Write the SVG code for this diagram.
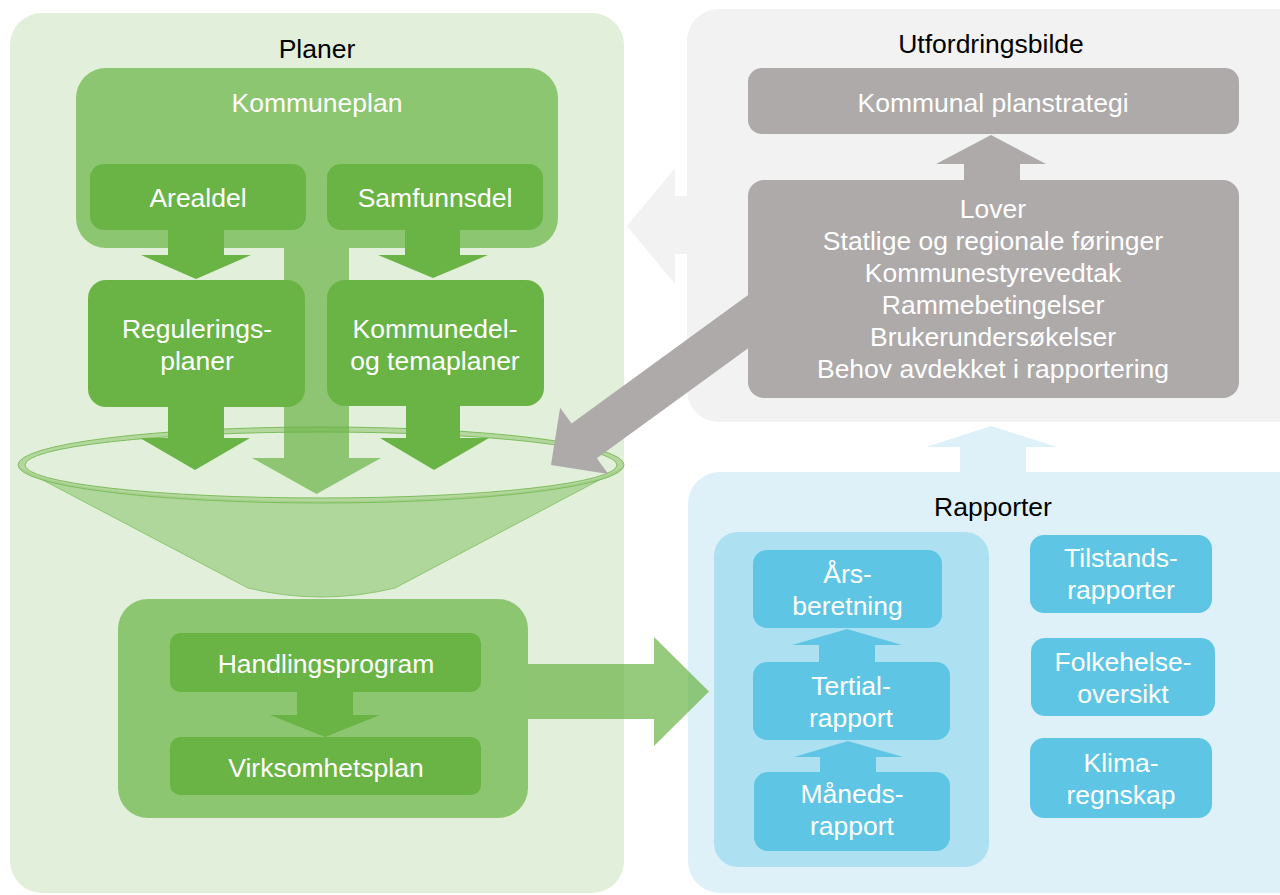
<svg xmlns="http://www.w3.org/2000/svg" width="1280" height="895" viewBox="0 0 1280 895">
<style>
text{font-family:"Liberation Sans",Arial,sans-serif;font-size:26.5px;text-anchor:middle}
.title{fill:#000}
.lbl{fill:#fff}
.pg{fill:#E2EFDA}
.mg{fill:#8DC671}
.dg{fill:#6AB446}
.pgray{fill:#F2F2F2}
.gray{fill:#AEAAAA}
.pblue{fill:#DEF1F9}
.mblue{fill:#ADE1F1}
.blue{fill:#5EC6E4}
</style>
<rect width="1280" height="895" fill="#fff"/>
<g id="containers">
  <g id="planer"><rect class="pg" x="10" y="13" width="614" height="880" rx="32"/><text class="title" x="317" y="58">Planer</text></g>
  <g id="utfordringsbilde"><rect class="pgray" x="687" y="9" width="630" height="413" rx="32"/><text class="title" x="991" y="53">Utfordringsbilde</text></g>
  <g id="rapporter"><rect class="pblue" x="688" y="472" width="630" height="421" rx="32"/><text class="title" x="993" y="516">Rapporter</text></g>
  <g id="kommuneplan"><rect class="mg" x="76" y="68" width="482" height="180" rx="30"/><text class="lbl" x="317" y="112">Kommuneplan</text></g>
  <g id="handling"><rect class="mg" x="118" y="599" width="410" height="219" rx="30"/></g>
  <g id="periodisk"><rect class="mblue" x="714" y="532" width="275" height="335" rx="24"/></g>
</g>
<g id="funnel">
  <path d="M20,468 L248,588 Q321,606 395,588 L622,468 A303 38 0 0 1 20,468 Z" fill="#AFD69B" stroke="#8DC671" stroke-width="1"/>
  <path d="M18,465 A303 38 0 1 0 624,465 A303 38 0 1 0 18,465 Z M25,465 A296 33 0 1 1 617,465 A296 33 0 1 1 25,465 Z" fill="#A9D18E" fill-opacity="0.8" fill-rule="evenodd" stroke="#7DBE5C" stroke-width="1"/>
</g>
<g id="connectors">
  <polygon class="pgray" points="627,226 675,168 675,196 700,196 700,254 675,254 675,284"/>
  <polygon class="pblue" points="991,426 1057,447 1026,447 1026,480 960,480 960,447 926,447"/>
  <polygon fill="#6AB446" fill-opacity="0.7" points="284,248 349,248 349,458 381,458 316.5,494 252,458 284,458"/>
  <polygon class="dg" points="168,230 224,230 224,255 251,255 196,279 141,255 168,255"/>
  <polygon class="dg" points="405,230 460,230 460,255 488,255 433,278 378,255 405,255"/>
  <polygon class="dg" points="168,406 224,406 224,438 250,438 195,470 140,438 168,438"/>
  <polygon class="dg" points="406,406 460,406 460,438 489,438 434,470 380,438 406,438"/>
  <polygon class="dg" points="297,692 353,692 353,715 380,715 325,737 270,715 297,715"/>
  <polygon fill="#6AB446" fill-opacity="0.7" points="528,664 654,664 654,637 709,691.5 654,746 654,719 528,719"/>
  <polygon class="gray" points="551,465 560.1,407.7 571.6,423.5 757.4,288.3 782.6,323.1 596.8,458.3 608.3,474.1"/>
  <polygon class="gray" points="991,135 1046,164 1020,164 1020,182 964,182 964,164 936,164"/>
  <polygon class="blue" points="847,629 902,645 875,645 875,663 819,663 819,645 792,645"/>
  <polygon class="blue" points="848,741 903,757 876,757 876,773 820,773 820,757 794,757"/>
</g>
<g id="arealdel"><rect class="dg" x="90" y="164" width="216" height="66" rx="14"/><text class="lbl" x="198" y="207">Arealdel</text></g>
<g id="samfunnsdel"><rect class="dg" x="327" y="164" width="216" height="66" rx="14"/><text class="lbl" x="435" y="207">Samfunnsdel</text></g>
<g id="reguleringsplaner"><rect class="dg" x="88" y="280" width="217" height="127" rx="18"/><text class="lbl" x="197" y="338">Regulerings-</text><text class="lbl" x="197" y="370">planer</text></g>
<g id="kommunedelplaner"><rect class="dg" x="327" y="280" width="217" height="126" rx="18"/><text class="lbl" x="435" y="338">Kommunedel-</text><text class="lbl" x="435" y="370">og temaplaner</text></g>
<g id="handlingsprogram"><rect class="dg" x="170" y="633" width="311" height="59" rx="10"/><text class="lbl" x="326" y="673">Handlingsprogram</text></g>
<g id="virksomhetsplan"><rect class="dg" x="170" y="737" width="311" height="58" rx="10"/><text class="lbl" x="326" y="777">Virksomhetsplan</text></g>
<g id="planstrategi"><rect class="gray" x="748" y="68" width="491" height="66" rx="14"/><text class="lbl" x="993" y="112">Kommunal planstrategi</text></g>
<g id="lover"><rect class="gray" x="748" y="180" width="491" height="218" rx="16"/>
  <text class="lbl" x="993" y="218">Lover</text>
  <text class="lbl" x="993" y="250">Statlige og regionale føringer</text>
  <text class="lbl" x="993" y="282">Kommunestyrevedtak</text>
  <text class="lbl" x="993" y="314">Rammebetingelser</text>
  <text class="lbl" x="993" y="346">Brukerundersøkelser</text>
  <text class="lbl" x="993" y="378">Behov avdekket i rapportering</text>
</g>
<g id="arsberetning"><rect class="blue" x="753" y="550" width="189" height="78" rx="14"/><text class="lbl" x="847.5" y="583">Års-</text><text class="lbl" x="847.5" y="615">beretning</text></g>
<g id="tertialrapport"><rect class="blue" x="753" y="662" width="197" height="78" rx="14"/><text class="lbl" x="851" y="695">Tertial-</text><text class="lbl" x="851" y="727">rapport</text></g>
<g id="manedsrapport"><rect class="blue" x="754" y="772" width="196" height="79" rx="14"/><text class="lbl" x="852" y="803">Måneds-</text><text class="lbl" x="852" y="835">rapport</text></g>
<g id="tilstandsrapporter"><rect class="blue" x="1030" y="535" width="182" height="78" rx="14"/><text class="lbl" x="1121" y="567">Tilstands-</text><text class="lbl" x="1121" y="599">rapporter</text></g>
<g id="folkehelse"><rect class="blue" x="1031" y="638" width="184" height="78" rx="14"/><text class="lbl" x="1123" y="671">Folkehelse-</text><text class="lbl" x="1123" y="703">oversikt</text></g>
<g id="klimaregnskap"><rect class="blue" x="1030" y="738" width="182" height="80" rx="14"/><text class="lbl" x="1121" y="772">Klima-</text><text class="lbl" x="1121" y="804">regnskap</text></g>
</svg>
